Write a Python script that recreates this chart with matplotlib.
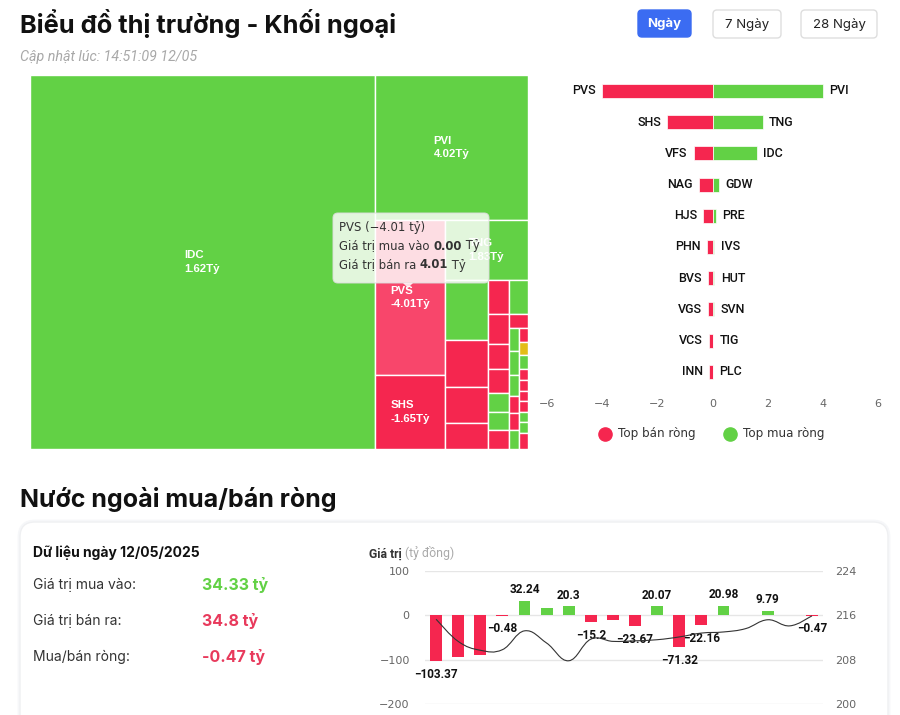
import matplotlib
matplotlib.use('Agg')
import matplotlib.pyplot as plt
from matplotlib.patches import Rectangle, FancyBboxPatch, Polygon, PathPatch
from matplotlib.path import Path
import numpy as np

# ---------------- data ----------------
title_top = "Biểu đồ thị trường - Khối ngoại"
updated_text = "Cập nhật lúc: 14:51:09 12/05"
period_buttons = ["Ngày", "7 Ngày", "28 Ngày"]

# treemap cells (size = traded weight, value = net in billion VND)
tm_names = ['IDC', 'PVI', 'PVS', 'SHS', 'TNG',
            'GDW', 'VFS', 'NAG', 'HJS',
            'PHN', 'BVS', 'VGS', 'VCS', 'PRE', 'IVS', 'INN',
            'HUT', 'MBS',
            'SVN', 'TIG', 'PLC', 'CEO', 'SHN', 'DTD',
            'NVB', 'L14', 'TVD', 'DHT', 'BCC', 'LAS', 'VIG', 'SCG', 'API', 'NTP']
tm_values = [1.62, 4.02, -4.01, -1.65, 1.83,
             0.25, -0.69, -0.51, -0.36,
             -0.22, -0.18, -0.18, -0.15, 0.12, 0.07, -0.15,
             0.07, -0.10,
             0.06, 0.03, 0.02, -0.08, -0.05, 0.01,
             -0.05, 0.00, 0.01, -0.04, -0.03, -0.03, -0.02, 0.01, 0.01, -0.02]
tm_sizes = [129030, 22185, 10850, 5180, 4980,
            2580, 2021, 1548, 1118,
            714, 630, 525, 504, 399, 378, 399,
            646, 266,
            230, 240, 210, 170, 170, 190,
            126, 117, 126, 99, 99, 90, 99, 90, 99, 144]
tm_hover = 'PVS'
tm_labeled = ['IDC', 'PVI', 'PVS', 'SHS', 'TNG']
# nesting of the treemap: 'h' = side by side, 'v' = stacked
tm_tree = ('h', [0, ('v', [1, ('h', [('v', [2, 3]),
                                     ('v', [4, ('h', [('v', [5, 6, 7, 8]),
                                                      ('v', [9, 10, 11, 12, 13, 14, 15]),
                                                      ('v', [16, 17, ('h', [('v', [18, 19, 20, 21, 22, 23]),
                                                                            ('v', list(range(24, 34)))])])])])])])])

tooltip_name = 'PVS'
tooltip_net = '−4.01'
tooltip_buy = '0.00'
tooltip_sell = '4.01'

# top net sell / top net buy
sell_names = ['PVS', 'SHS', 'VFS', 'NAG', 'HJS', 'PHN', 'BVS', 'VGS', 'VCS', 'INN']
sell_vals = [-4.01, -1.65, -0.69, -0.49, -0.34, -0.21, -0.17, -0.17, -0.12, -0.12]
buy_names = ['PVI', 'TNG', 'IDC', 'GDW', 'PRE', 'IVS', 'HUT', 'SVN', 'TIG', 'PLC']
buy_vals = [4.02, 1.83, 1.62, 0.24, 0.12, 0.07, 0.07, 0.06, 0.03, 0.02]
xticks_top = [-6, -4, -2, 0, 2, 4, 6]
legend_labels = ['Top bán ròng', 'Top mua ròng']

# bottom section
title_bottom = "Nước ngoài mua/bán ròng"
card_date = "Dữ liệu ngày 12/05/2025"
card_rows = ["Giá trị mua vào:", "Giá trị bán ra:", "Mua/bán ròng:"]
card_values = ["34.33 tỷ", "34.8 tỷ", "-0.47 tỷ"]

net_values = [-103.37, -94.7, -88.5, -0.48, 32.24, 17.0, 20.3, -15.2, -11.5,
              -23.67, 20.07, -71.32, -22.16, 20.98, 1.2, 9.79, -0.2, -0.47]
net_labeled_idx = [0, 3, 4, 6, 7, 9, 10, 11, 12, 13, 15, 17]
index_values = [215.3, 211.3, 209.7, 209.8, 213.2, 211.0, 207.8, 211.7, 211.3,
                211.4, 211.6, 212.1, 212.8, 213.0, 213.6, 215.2, 214.1, 215.9]
left_ticks = [-200, -100, 0, 100]
right_ticks = [200, 208, 216, 224]

# ---------------- style ----------------
GREEN = '#62d145'
RED = '#f5264f'
RED_HOVER = '#f8466b'
YELLOW = '#e3bd17'
W, H = 900, 715
fig = plt.figure(figsize=(9, 7.15), dpi=100)
fig.patch.set_facecolor('white')


def px_axes(x0, y0, x1, y1, **kw):
    return fig.add_axes([x0 / W, 1 - y1 / H, (x1 - x0) / W, (y1 - y0) / H], **kw)


HEAD = ['Inter', 'DejaVu Sans']
SANS = ['Roboto', 'DejaVu Sans']

# ---------------- background layer ----------------
bg = px_axes(0, 0, W, H)
bg.set_zorder(0)
bg.set_xlim(0, W)
bg.set_ylim(H, 0)
bg.axis('off')

bg.text(20, 33, title_top, fontsize=18.3, fontweight='bold', family=HEAD,
        color='#111111', va='baseline', ha='left')
bg.text(20, 57, updated_text, fontsize=10.3, style='italic', family=SANS,
        color='#a8a8a8', va='center', ha='left')

btn_boxes = [(638, 10, 53, 27), (713, 10, 68, 28), (801, 10, 76, 28)]
for (bx, by, bw, bh), lab, k in zip(btn_boxes, period_buttons, range(3)):
    active = k == 0
    bg.add_patch(FancyBboxPatch((bx, by), bw, bh,
                                boxstyle='round,pad=0,rounding_size=4',
                                fc='#3b6cf2' if active else 'white',
                                ec='#3b6cf2' if active else '#dedede', lw=1))
    bg.text(bx + bw / 2, by + bh / 2 + 0.5, lab, fontsize=9.5, family=HEAD,
            fontweight='bold' if active else 'normal',
            color='white' if active else '#222222', ha='center', va='center')

bg.text(20, 507, title_bottom, fontsize=18.0, fontweight='bold', family=HEAD,
        color='#111111', va='baseline', ha='left')

bg.add_patch(FancyBboxPatch((19, 521), 870, 260, boxstyle='round,pad=0,rounding_size=16',
                            fc='none', ec='#f6f7f9', lw=2))
bg.add_patch(FancyBboxPatch((20, 522), 868, 260, boxstyle='round,pad=0,rounding_size=15',
                            fc='white', ec='#eff0f2', lw=1))
bg.text(33, 553, card_date, fontsize=10, fontweight='bold', family=HEAD,
        color='#111111', va='center', ha='left')
row_y = [585, 621, 657]
row_col = [GREEN, '#e83a5c', '#e83a5c']
for y, lab, val, c in zip(row_y, card_rows, card_values, row_col):
    bg.text(33, y, lab, fontsize=10, family=HEAD, color='#333333', va='center', ha='left')
    bg.text(202, y, val, fontsize=11.5, fontweight='bold', family=HEAD, color=c,
            va='center', ha='left')

gt = bg.text(369, 554, 'Giá trị', fontsize=8.8, fontweight='bold', family=SANS,
             color='#333333', va='center', ha='left')
bg.annotate(' (tỷ đồng)', xy=(1, 0), xycoords=gt, fontsize=8.8, family=SANS,
            color='#aaaaaa', va='bottom', ha='left')

# legend of the top bar chart
bg.plot([605], [434], marker='o', ms=9.5, color=RED, ls='none')
bg.text(618, 434, legend_labels[0], fontsize=8.6, family='DejaVu Sans', color='#333333',
        va='center', ha='left')
bg.plot([730], [434], marker='o', ms=9.5, color=GREEN, ls='none')
bg.text(743, 434, legend_labels[1], fontsize=8.6, family='DejaVu Sans', color='#333333',
        va='center', ha='left')

# ---------------- treemap ----------------
TX0, TY0, TX1, TY1 = 30, 75, 528, 449
tm = px_axes(TX0, TY0, TX1, TY1)
tm.set_zorder(1)
tm.set_xlim(0, TX1 - TX0)
tm.set_ylim(TY1 - TY0, 0)
tm.axis('off')


def node_size(node):
    if isinstance(node, int):
        return tm_sizes[node]
    return sum(node_size(c) for c in node[1])


def layout(node, x, y, w, h, out):
    if isinstance(node, int):
        out[node] = (x, y, w, h)
        return
    d, children = node
    tot = node_size(node)
    pos = 0.0
    for c in children:
        f = node_size(c) / tot
        if d == 'h':
            layout(c, x + pos * w, y, w * f, h, out)
        else:
            layout(c, x, y + pos * h, w, h * f, out)
        pos += f


rects = {}
layout(tm_tree, 0, 0, TX1 - TX0, TY1 - TY0, rects)
for i, name in enumerate(tm_names):
    x, y, w, h = rects[i]
    v = tm_values[i]
    if name == tm_hover:
        col = RED_HOVER
    elif v > 0:
        col = GREEN
    elif v < 0:
        col = RED
    else:
        col = YELLOW
    tm.add_patch(Rectangle((x, y), w, h, fc=col, ec='white', lw=1))
    if name in tm_labeled:
        tm.text(x + w / 2, y + h / 2, f"{name}\n{v:.2f}Tỷ", fontsize=8.2,
                fontweight='bold', family=['Liberation Sans', 'DejaVu Sans'],
                color='white', ha='center', va='center', multialignment='left',
                linespacing=1.4)

# ---------------- top net buy/sell bars ----------------
rb = px_axes(547.5, 75.4, 877.5, 387.4)
rb.set_zorder(1)
rb.set_facecolor('none')
rows = np.arange(len(sell_names))
rb.barh(rows, sell_vals, height=0.45, color=RED, edgecolor='white', linewidth=0.5)
rb.barh(rows, buy_vals, height=0.45, color=GREEN, edgecolor='white', linewidth=0.5)
for i in rows:
    rb.annotate(sell_names[i], (sell_vals[i], i), xytext=(-4.5, 0), textcoords='offset points',
                ha='right', va='center', fontsize=9, fontweight='medium', family=SANS,
                color='#111111')
    rb.annotate(buy_names[i], (buy_vals[i], i), xytext=(4.5, 0), textcoords='offset points',
                ha='left', va='center', fontsize=9, fontweight='medium', family=SANS,
                color='#111111')
rb.set_xlim(-6, 6)
rb.set_ylim(len(rows) - 0.5, -0.5)
rb.set_xticks(xticks_top)
rb.set_yticks([])
rb.tick_params(axis='x', length=0, pad=8, labelsize=8, labelcolor='#666666')
for s in rb.spines.values():
    s.set_visible(False)

# ---------------- bottom net chart ----------------
bc = px_axes(425, 571, 823, 704)
bc.set_zorder(1)
bc.set_facecolor('none')
xi = np.arange(len(net_values))
bc.set_ylim(-200, 100)
bc.set_xlim(-0.5, len(net_values) - 0.5)
bc.set_yticks(left_ticks)
bc.set_xticks([])
bc.grid(axis='y', color='#e6e6e6', lw=1)
bc.set_axisbelow(True)
bc.tick_params(axis='y', length=0, pad=11, labelsize=8, labelcolor='#666666')
for s in bc.spines.values():
    s.set_visible(False)
bcol = [GREEN if v > 0 else RED for v in net_values]
bc.bar(xi, net_values, width=0.54, color=bcol)
for i in net_labeled_idx:
    v = net_values[i]
    bc.annotate(f"{v:g}".replace('-', '−'), (i, v), xytext=(0, 8 if v > 0 else -9.5),
                textcoords='offset points', ha='center', va='center', fontsize=8.5,
                fontweight='bold', family=SANS, color='#111111', zorder=5)

tw = bc.twinx()
tw.set_ylim(200, 224)
tw.set_yticks(right_ticks)
tw.tick_params(axis='y', length=0, pad=9, labelsize=8, labelcolor='#666666')
for s in tw.spines.values():
    s.set_visible(False)


def smooth_path(xs, ys, t=0.2):
    xs = np.asarray(xs, float)
    ys = np.asarray(ys, float)
    n = len(xs)
    verts = [(xs[0], ys[0])]
    codes = [Path.MOVETO]
    for i in range(n - 1):
        p0 = (xs[max(i - 1, 0)], ys[max(i - 1, 0)])
        p1 = (xs[i], ys[i])
        p2 = (xs[i + 1], ys[i + 1])
        p3 = (xs[min(i + 2, n - 1)], ys[min(i + 2, n - 1)])
        c1 = (p1[0] + (p2[0] - p0[0]) * t, p1[1] + (p2[1] - p0[1]) * t)
        c2 = (p2[0] - (p3[0] - p1[0]) * t, p2[1] - (p3[1] - p1[1]) * t)
        verts += [c1, c2, p2]
        codes += [Path.CURVE4] * 3
    return Path(verts, codes)


tw.add_patch(PathPatch(smooth_path(xi, index_values), fc='none', ec='#333333', lw=0.8))

# ---------------- tooltip overlay ----------------
ov = px_axes(0, 0, W, H)
ov.set_zorder(10)
ov.set_facecolor('none')
ov.set_xlim(0, W)
ov.set_ylim(H, 0)
ov.axis('off')
ov.add_patch(FancyBboxPatch((333, 213), 156, 70, boxstyle='round,pad=0,rounding_size=5',
                            fc='white', ec='#dddddd', lw=0.8, alpha=0.82))
ov.add_patch(Polygon([(403, 283), (413, 283), (408, 288)], closed=True,
                     fc='white', ec='none', alpha=0.82))
tf = dict(fontsize=8.4, family='DejaVu Sans', color='#333333')
ov.text(339, 228, f"{tooltip_name} ({tooltip_net} tỷ)", va='center', ha='left', **tf)
t1 = ov.text(339, 246, "Giá trị mua vào ", va='center', ha='left', **tf)
t2 = ov.annotate(tooltip_buy, xy=(1, 0), xycoords=t1, va='bottom', ha='left',
                 fontweight='bold', **tf)
ov.annotate(" Tỷ", xy=(1, 0), xycoords=t2, va='bottom', ha='left', **tf)
t3 = ov.text(339, 265, "Giá trị bán ra ", va='center', ha='left', **tf)
t4 = ov.annotate(tooltip_sell, xy=(1, 0), xycoords=t3, va='bottom', ha='left',
                 fontweight='bold', **tf)
ov.annotate(" Tỷ", xy=(1, 0), xycoords=t4, va='bottom', ha='left', **tf)

fig.savefig('out.png', dpi=100)
